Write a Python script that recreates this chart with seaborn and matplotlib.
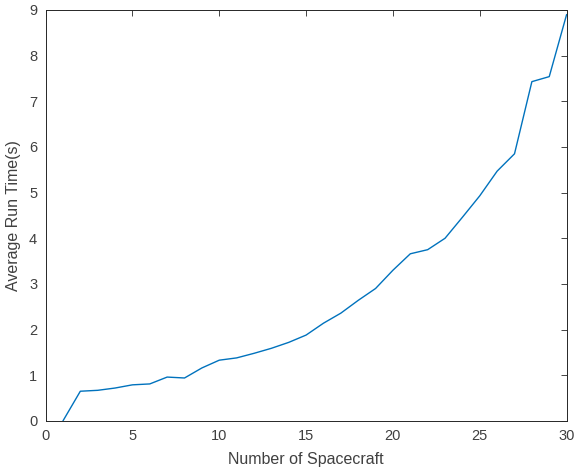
import pandas as pd
import matplotlib
matplotlib.use("Agg")
import matplotlib.pyplot as plt
import seaborn as sns

# average run time per number of spacecraft
n_spacecraft = list(range(1, 31))
run_time = [0.00, 0.65, 0.67, 0.72, 0.79, 0.81, 0.96, 0.94, 1.16, 1.33,
            1.38, 1.48, 1.59, 1.72, 1.88, 2.14, 2.36, 2.64, 2.90, 3.30,
            3.66, 3.75, 4.00, 4.46, 4.93, 5.47, 5.85, 7.43, 7.54, 8.90]

df = pd.DataFrame({'n': n_spacecraft, 't': run_time})

sns.set_style('white')
plt.rcParams['font.family'] = ['Liberation Sans', 'DejaVu Sans']

fig = plt.figure(figsize=(5.77, 4.74), dpi=100)
ax = fig.add_axes([0.079, 0.112, 0.903, 0.867])

sns.lineplot(data=df, x='n', y='t', color='#0072BD', linewidth=1.0, ax=ax)

ax.set_xlim(0, 30)
ax.set_ylim(0, 9)
ax.set_xticks(range(0, 31, 5))
ax.set_yticks(range(0, 10))
ax.set_xlabel('Number of Spacecraft', fontsize=11.5, color='#404040', labelpad=6)
ax.set_ylabel('Average Run Time(s)', fontsize=11.5, color='#404040', labelpad=6)
ax.tick_params(direction='in', length=4, width=0.6, colors='#262626',
               labelcolor='#404040', labelsize=10.5, pad=6,
               top=True, right=True, labeltop=False, labelright=False)
for s in ax.spines.values():
    s.set_color('#262626')
    s.set_linewidth(0.7)

fig.savefig('out.png', dpi=100)
